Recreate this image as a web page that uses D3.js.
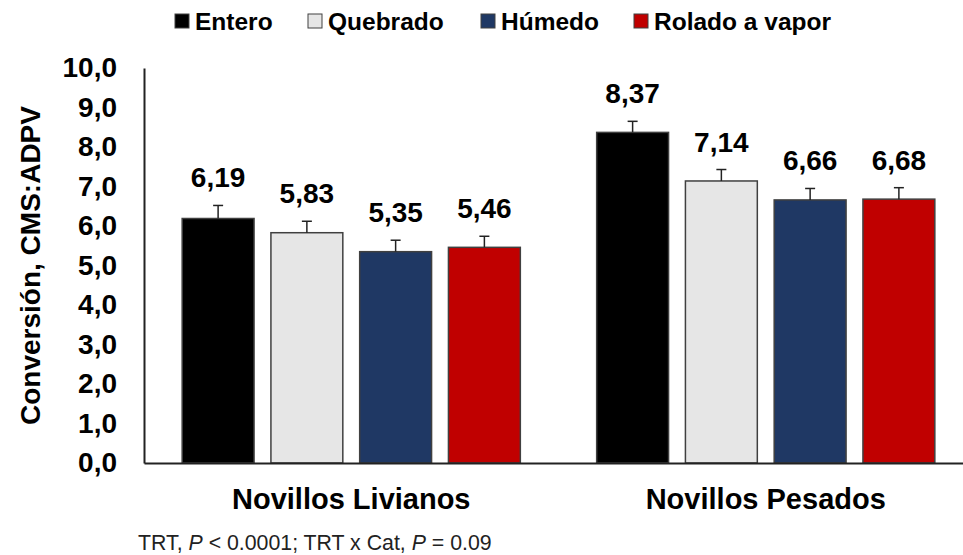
<!DOCTYPE html>
<html lang="es">
<head>
<meta charset="utf-8">
<title>Conversión CMS:ADPV</title>
<script src="https://d3js.org/d3.v7.min.js"></script>
<style>
  body { margin: 0; background: #fff; }
  text { font-family: "Liberation Sans", Arial, sans-serif; }
</style>
</head>
<body>
<div id="chart"></div>
<script>
// data
var categories = ["Novillos Livianos", "Novillos Pesados"];
var series = ["Entero", "Quebrado", "Húmedo", "Rolado a vapor"];
var colors = ["#000000", "#e6e6e6", "#1f3864", "#c00000"];
var values = [
  [6.19, 5.83, 5.35, 5.46],
  [8.37, 7.14, 6.66, 6.68]
];
var errors = [
  [0.33, 0.29, 0.29, 0.28],
  [0.28, 0.29, 0.29, 0.29]
];
var yTicks = [0, 1, 2, 3, 4, 5, 6, 7, 8, 9, 10];

var width = 963, height = 555;
var margin = {left: 144, right: -10, top: 68, bottom: 92};

var svg = d3.select("#chart").append("svg")
  .attr("width", width)
  .attr("height", height);

var y = d3.scaleLinear().domain([0, 10]).range([height - margin.bottom, margin.top]);
var x0 = d3.scaleBand().domain(categories).range([margin.left, width - margin.right]).paddingInner(0).paddingOuter(0);
var x1 = d3.scaleBand().domain(series).range([0, x0.bandwidth()]).paddingInner(0.19).paddingOuter(0.43);

var fmt = function(v, d) { return v.toFixed(d).replace(".", ","); };

// bars
var groups = svg.selectAll("g.grp")
  .data(categories)
  .enter().append("g")
  .attr("class", "grp")
  .attr("transform", function(d) { return "translate(" + x0(d) + ",0)"; });

groups.each(function(cat, ci) {
  var g = d3.select(this);
  var rows = series.map(function(s, si) {
    return {s: s, v: values[ci][si], e: errors[ci][si], c: colors[si]};
  });

  g.selectAll("rect")
    .data(rows)
    .enter().append("rect")
    .attr("x", function(d) { return x1(d.s); })
    .attr("y", function(d) { return y(d.v); })
    .attr("width", x1.bandwidth())
    .attr("height", function(d) { return y(0) - y(d.v); })
    .attr("fill", function(d) { return d.c; })
    .attr("stroke", "#404040")
    .attr("stroke-width", 1.5);

  // error bars
  g.selectAll("line.err")
    .data(rows)
    .enter().append("line")
    .attr("class", "err")
    .attr("x1", function(d) { return x1(d.s) + x1.bandwidth() / 2; })
    .attr("x2", function(d) { return x1(d.s) + x1.bandwidth() / 2; })
    .attr("y1", function(d) { return y(d.v); })
    .attr("y2", function(d) { return y(d.v + d.e); })
    .attr("stroke", "#222")
    .attr("stroke-width", 1.5);

  g.selectAll("line.cap")
    .data(rows)
    .enter().append("line")
    .attr("class", "cap")
    .attr("x1", function(d) { return x1(d.s) + x1.bandwidth() / 2 - 5; })
    .attr("x2", function(d) { return x1(d.s) + x1.bandwidth() / 2 + 5; })
    .attr("y1", function(d) { return y(d.v + d.e); })
    .attr("y2", function(d) { return y(d.v + d.e); })
    .attr("stroke", "#222")
    .attr("stroke-width", 1.5);

  // value labels
  g.selectAll("text.val")
    .data(rows)
    .enter().append("text")
    .attr("class", "val")
    .attr("x", function(d) { return x1(d.s) + x1.bandwidth() / 2; })
    .attr("y", function(d) { return y(d.v + d.e) - 18; })
    .attr("text-anchor", "middle")
    .attr("font-size", 28)
    .attr("font-weight", "bold")
    .attr("fill", "#000")
    .text(function(d) { return fmt(d.v, 2); });
});

// y axis
var yAxis = svg.append("g")
  .attr("transform", "translate(" + margin.left + ",0)")
  .call(d3.axisLeft(y).tickValues(yTicks).tickSize(0).tickPadding(27)
    .tickFormat(function(d) { return fmt(d, 1); }));
yAxis.select(".domain").attr("stroke", "#222").attr("stroke-width", 2);
yAxis.selectAll("text")
  .attr("font-size", 28)
  .attr("font-weight", "bold")
  .attr("fill", "#000")
  .style("font-family", "'Liberation Sans', Arial, sans-serif");

// x axis
var xAxis = svg.append("g")
  .attr("transform", "translate(0," + y(0) + ")")
  .call(d3.axisBottom(x0).tickSize(0).tickPadding(25));
xAxis.select(".domain").attr("stroke", "#222").attr("stroke-width", 2);
xAxis.selectAll("text")
  .attr("font-size", 29)
  .attr("font-weight", "bold")
  .attr("fill", "#000")
  .style("font-family", "'Liberation Sans', Arial, sans-serif");

// y title
svg.append("text")
  .attr("transform", "translate(40," + ((y(0) + y(10)) / 2) + ") rotate(-90)")
  .attr("text-anchor", "middle")
  .attr("font-size", 28)
  .attr("font-weight", "bold")
  .attr("fill", "#000")
  .text("Conversión, CMS:ADPV");

// legend
var legendX = [175, 308, 481, 634];
var legend = svg.selectAll("g.leg")
  .data(series)
  .enter().append("g")
  .attr("class", "leg")
  .attr("transform", function(d, i) { return "translate(" + legendX[i] + ",14)"; });
legend.append("rect")
  .attr("width", 14).attr("height", 14)
  .attr("fill", function(d, i) { return colors[i]; })
  .attr("stroke", "#404040").attr("stroke-width", 1);
legend.append("text")
  .attr("x", 20).attr("y", 16)
  .attr("font-size", 24.5)
  .attr("font-weight", "bold")
  .attr("fill", "#000")
  .text(function(d) { return d; });

// footnote
var note = svg.append("text")
  .attr("x", 138).attr("y", 550)
  .attr("font-size", 21.3)
  .attr("fill", "#222");
note.append("tspan").text("TRT, ");
note.append("tspan").attr("font-style", "italic").text("P");
note.append("tspan").text(" < 0.0001; TRT x Cat, ");
note.append("tspan").attr("font-style", "italic").text("P");
note.append("tspan").text(" = 0.09");
</script>
</body>
</html>
